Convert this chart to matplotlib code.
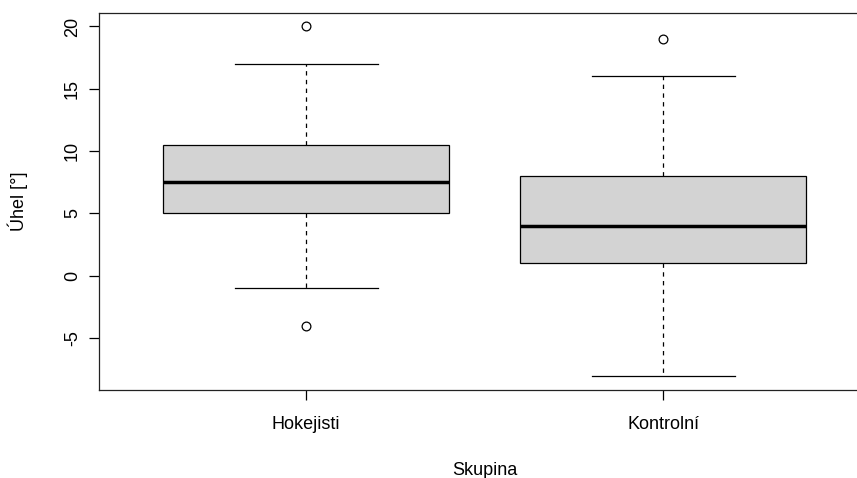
import matplotlib
matplotlib.use("Agg")
import matplotlib.pyplot as plt

# Five-number summaries per group plus outlying points
groups = ["Hokejisti", "Kontrolní"]
whisker_low = [-1, -8]
q1 = [5, 1]
median = [7.5, 4]
q3 = [10.5, 8]
whisker_high = [17, 16]
outliers = [[20, -4], [19]]
y_ticks = [-5, 0, 5, 10, 15, 20]

plt.rcParams["font.family"] = ["Liberation Sans", "DejaVu Sans"]

fig = plt.figure(figsize=(8.57, 4.78), dpi=100)
W, H = 857, 478
# plot region runs past the right edge of the canvas
left_px, right_px, top_px, bottom_px = 99, 870.5, 12.5, 389.5
ax_w, ax_h = right_px - left_px, bottom_px - top_px
ax = fig.add_axes([left_px / W, 1 - bottom_px / H, ax_w / W, ax_h / H])

stats = []
for i, name in enumerate(groups):
    stats.append(dict(label=name, whislo=whisker_low[i], q1=q1[i], med=median[i],
                      q3=q3[i], whishi=whisker_high[i], fliers=outliers[i]))

lw = 0.9
ax.bxp(stats, positions=[1, 2], widths=0.8, capwidths=0.4, patch_artist=True,
       boxprops=dict(facecolor="#d3d3d3", edgecolor="black", linewidth=lw),
       medianprops=dict(color="black", linewidth=2.5, solid_capstyle="butt"),
       whiskerprops=dict(color="black", linewidth=lw, linestyle=(0, (3.5, 3.5))),
       capprops=dict(color="black", linewidth=lw),
       flierprops=dict(marker="o", markersize=6.3, markerfacecolor="none",
                       markeredgecolor="black", markeredgewidth=lw))

ax.set_xlim(0.42, 2.58)
ax.set_ylim(-9.12, 21.12)
ax.set_yticks(y_ticks)
ax.set_yticklabels([str(t) for t in y_ticks], rotation=90, va="center")
ax.set_xticks([1, 2])
ax.set_xticklabels(groups)

fs = 13
ax.tick_params(axis="both", length=7.5, width=lw, labelsize=fs, colors="black")
ax.tick_params(axis="x", pad=11.5)
ax.tick_params(axis="y", pad=5.5)
for s in ax.spines.values():
    s.set_linewidth(lw)
    s.set_color("#222222")

ax.set_xlabel("Skupina", fontsize=fs)
ax.xaxis.set_label_coords((484.6 - left_px) / ax_w, -(462 - bottom_px) / ax_h)
ax.set_ylabel("Úhel [°]", fontsize=fs)
ax.yaxis.set_label_coords(-(left_px - 28) / ax_w, 0.5)

fig.savefig("out.png", dpi=100)
